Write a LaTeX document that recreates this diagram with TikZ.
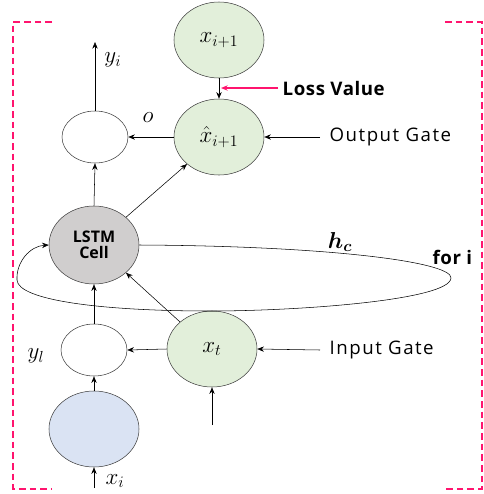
\documentclass[tikz,border=0pt]{standalone}
\usepackage{amsmath}
\usepackage{bm}
\usepackage{fontspec}
\setsansfont{Open Sans}
\usetikzlibrary{shapes.geometric,arrows.meta,positioning}
\definecolor{nodegreen}{RGB}{226,239,218}
\definecolor{nodeblue}{RGB}{218,227,243}
\definecolor{nodegray}{RGB}{208,206,206}
\definecolor{losspink}{RGB}{255,20,110}
\definecolor{edgegray}{RGB}{64,64,64}

\begin{document}
\begin{tikzpicture}[x=0.75pt, y=-0.75pt,
    unit/.style={ellipse, draw=edgegray, inner sep=0pt},
    bigunit/.style={unit, minimum width=67.5pt, minimum height=57pt},
    smallunit/.style={unit, fill=white, minimum width=49.5pt, minimum height=39pt},
    arr/.style={-{Stealth[length=5pt,width=4pt]}, black},
    gate/.style={font=\sffamily\fontsize{14}{15}\selectfont\addfontfeature{LetterSpace=8}, anchor=west},
    boldtxt/.style={font=\sffamily\bfseries\fontsize{14}{15}\selectfont\addfontfeature{LetterSpace=3}, anchor=west},
    bracket/.style={losspink, dashed, dash pattern=on 5pt off 3pt, line width=0.8pt}
]
\useasboundingbox (0,0) rectangle (484,494);

% Nodes
\node[bigunit, fill=nodegreen] (xnext) at (219,40) {\LARGE$x_{i+1}$};
\node[bigunit, fill=nodegreen] (xhat) at (219,137) {\LARGE$\hat{x}_{i+1}$};
\node[smallunit] (out) at (95,137) {};
\node[bigunit, fill=nodegray, minimum height=58.5pt, font=\sffamily\bfseries\fontsize{12}{13}\selectfont, align=center] (lstm) at (94,245) {LSTM\\[-1pt]Cell};
\node[smallunit] (yl) at (94,350) {};
\node[bigunit, fill=nodegreen] (xt) at (212,349) {\LARGE$x_t$};
\node[bigunit, fill=nodeblue] (inp) at (94,429) {};

% free ends
\coordinate (yitop) at (95,42);
\coordinate (xibot) at (94,488);
\coordinate (xtbot) at (212,425);
\coordinate (ingate) at (320,350);
\coordinate (outgate) at (320,137);
\coordinate (losstail) at (278,88);

% Labels
\node[gate] (ingatetxt) at (325,350) {Input Gate};
\node[gate] (outgatetxt) at (325,137) {Output Gate};
\node[boldtxt] (losstxt) at (278,88) {Loss Value};
\node[boldtxt] (fori) at (428,257) {for i};
\node (hc) at (340,242) {\LARGE$\bm{h_c}$};
\node (yilbl) at (113,60) {\LARGE$y_i$};
\node (olbl) at (148,118) {\LARGE$o$};
\node (yllbl) at (36,356) {\LARGE$y_l$};
\node (xilbl) at (115,481) {\LARGE$x_i$};

% Connections
\draw[arr] (xibot) -- (inp.south);
\draw[arr] (inp.north) -- (yl.south);
\draw[arr] (yl.north) -- (lstm.south);
\draw[arr] (xt.west) -- (yl.east);
\draw[arr] (xt.north west) -- (lstm.south east);
\draw[arr] (xtbot) -- (xt.south);
\draw[arr] (ingate) -- (xt.east);
\draw[arr] (lstm.north) -- (out.south);
\draw[arr] (lstm.north east) -- (xhat.south west);
\draw[arr] (xhat.west) -- (out.east);
\draw[arr] (out.north) -- (yitop);
\draw[arr] (xnext.south) -- (xhat.north);
\draw[arr] (outgate) -- (xhat.east);
\draw[-{Stealth[length=5pt,width=4pt]}, losspink, line width=1.2pt] (losstail) -- ([xshift=1.5pt]xnext.south |- losstail);

% recurrent loop
\draw[arr] (lstm.east) .. controls (330,246) and (452,262) .. (451,278)
    .. controls (450,300) and (300,311) .. (210,311)
    .. controls (100,311) and (18,300) .. (17,280)
    .. controls (16,262) and (30,246) .. (lstm.west);

% dashed bracket
\draw[bracket] (52,22) -- (13,22) -- (13,489) -- (52,489);
\draw[bracket] (445,22) -- (482,22) -- (482,489) -- (445,489);
\end{tikzpicture}
\end{document}
